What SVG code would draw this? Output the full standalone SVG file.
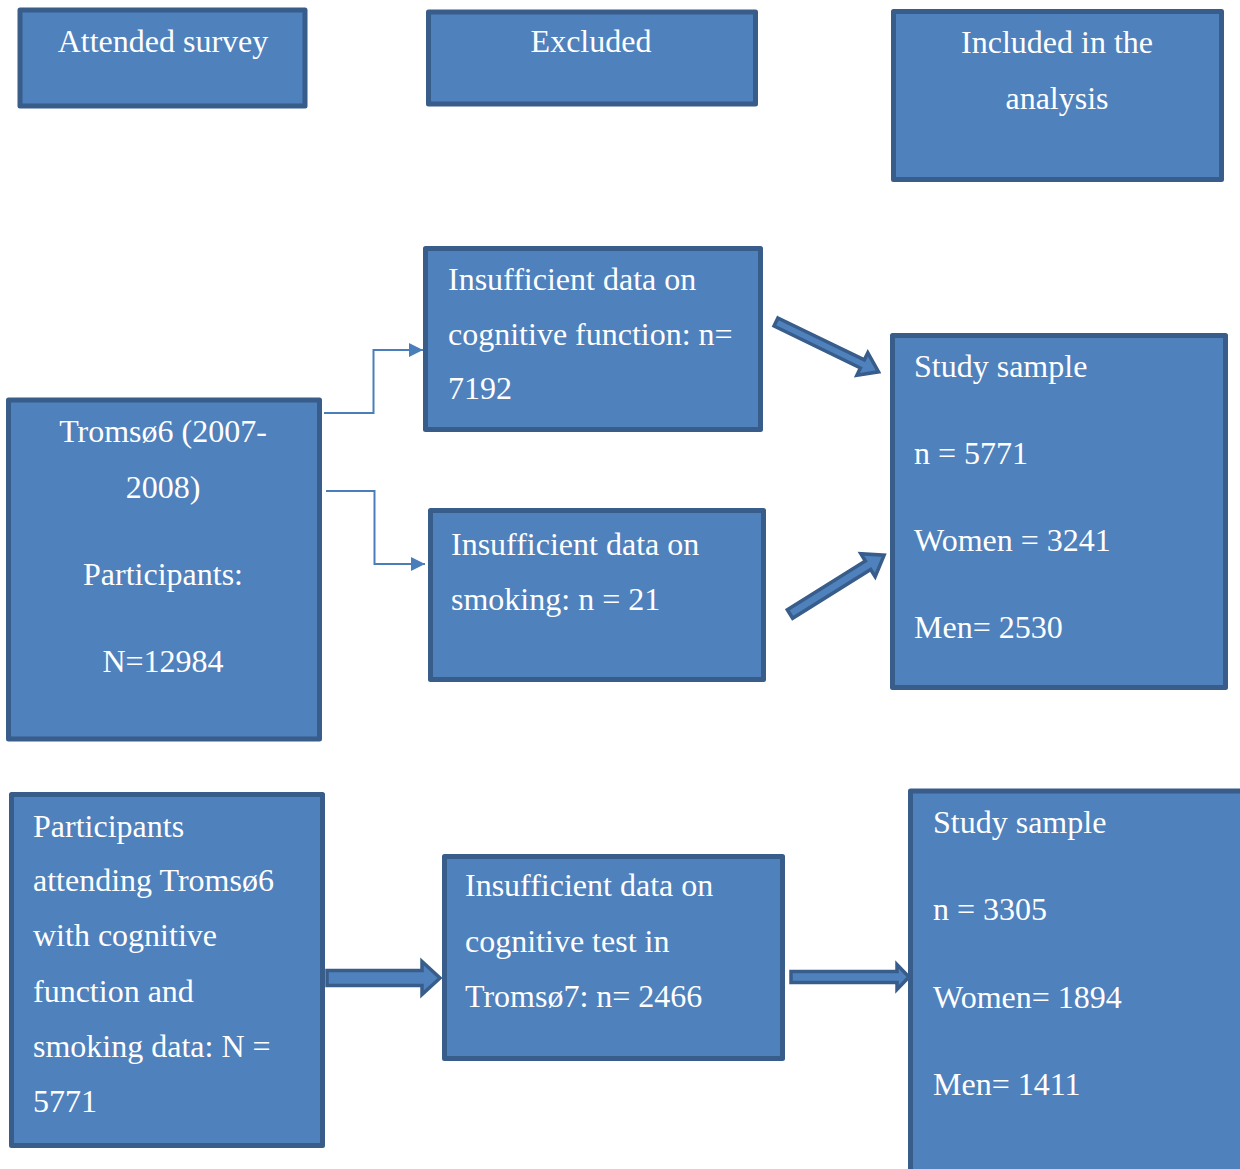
<svg xmlns="http://www.w3.org/2000/svg" width="1240" height="1169" viewBox="0 0 1240 1169">
<defs>
<style>
.box{fill:#4F81BD;stroke:#385D8A;stroke-width:5;stroke-linejoin:round}
.t{font-family:"Liberation Serif","Times New Roman",serif;font-size:32px;fill:#FFFFFF}
.c{text-anchor:middle}
.thin{fill:none;stroke:#4A7EBB;stroke-width:2}
.blk{fill:#4F81BD;stroke:#385D8A;stroke-width:3.5;stroke-linejoin:miter}
</style>
<marker id="tri" viewBox="0 0 10 10" refX="10" refY="5" markerWidth="14" markerHeight="14" orient="auto" markerUnits="userSpaceOnUse">
<path d="M0,0 L10,5 L0,10 z" fill="#4A7EBB"/>
</marker>
</defs>
<rect width="1240" height="1169" fill="#FFFFFF"/>

<g id="attended">
<rect class="box" x="20" y="10" width="285" height="96"/>
<text class="t c" x="163" y="52">Attended survey</text>
</g>
<g id="excluded">
<rect class="box" x="428.5" y="12" width="327" height="92"/>
<text class="t c" x="591" y="52">Excluded</text>
</g>
<g id="included">
<rect class="box" x="893.5" y="11.5" width="328" height="168"/>
<text class="t c" x="1057" y="53">Included in the</text>
<text class="t c" x="1057" y="109">analysis</text>
</g>
<g id="insuff-cognitive">
<rect class="box" x="425.5" y="248.5" width="335" height="181"/>
<text class="t" x="448" y="290">Insufficient data on</text>
<text class="t" x="448" y="345">cognitive function: n=</text>
<text class="t" x="448" y="399">7192</text>
</g>
<g id="study-sample-1">
<rect class="box" x="892.5" y="335.5" width="333" height="352"/>
<text class="t" x="914" y="377">Study sample</text>
<text class="t" x="914" y="464">n = 5771</text>
<text class="t" x="914" y="551">Women = 3241</text>
<text class="t" x="914" y="638">Men= 2530</text>
</g>
<g id="tromso6">
<rect class="box" x="8.5" y="400" width="311" height="339"/>
<text class="t c" x="163" y="442">Tromsø6 (2007-</text>
<text class="t c" x="163" y="498">2008)</text>
<text class="t c" x="163" y="585">Participants:</text>
<text class="t c" x="163" y="672">N=12984</text>
</g>
<g id="insuff-smoking">
<rect class="box" x="430.5" y="510.5" width="333" height="169"/>
<text class="t" x="451" y="555">Insufficient data on</text>
<text class="t" x="451" y="610">smoking: n = 21</text>
</g>
<g id="participants">
<rect class="box" x="11.5" y="794.5" width="311" height="351"/>
<text class="t" x="33" y="837">Participants</text>
<text class="t" x="33" y="891">attending Tromsø6</text>
<text class="t" x="33" y="946">with cognitive</text>
<text class="t" x="33" y="1002">function and</text>
<text class="t" x="33" y="1057">smoking data: N =</text>
<text class="t" x="33" y="1112">5771</text>
</g>
<g id="insuff-cogtest">
<rect class="box" x="444.5" y="856.5" width="338" height="202"/>
<text class="t" x="465" y="896">Insufficient data on</text>
<text class="t" x="465" y="952">cognitive test in</text>
<text class="t" x="465" y="1007">Tromsø7: n= 2466</text>
</g>
<g id="study-sample-2">
<rect class="box" x="910.5" y="791" width="340" height="390"/>
<text class="t" x="933" y="833">Study sample</text>
<text class="t" x="933" y="920">n = 3305</text>
<text class="t" x="933" y="1008">Women= 1894</text>
<text class="t" x="933" y="1095">Men= 1411</text>
</g>

<g id="connectors">
<path class="thin" d="M324,413 H373.5 V350 H423" marker-end="url(#tri)"/>
<path class="thin" d="M326,491 H374.5 V564 H425" marker-end="url(#tri)"/>
<polygon class="blk" transform="translate(776,322) rotate(25.9)" points="0,-4.5 96,-4.5 96,-12.5 114,0 96,12.5 96,4.5 0,4.5"/>
<polygon class="blk" transform="translate(790,614) rotate(-32)" points="0,-5 92,-5 92,-13.5 111,0 92,13.5 92,5 0,5"/>
<polygon class="blk" points="327,970.5 422,970.5 422,961.5 440,978 422,994.5 422,985.5 327,985.5"/>
<polygon class="blk" points="791,971.5 897,971.5 897,964.5 909,977 897,989.5 897,982.5 791,982.5"/>
</g>
</svg>
